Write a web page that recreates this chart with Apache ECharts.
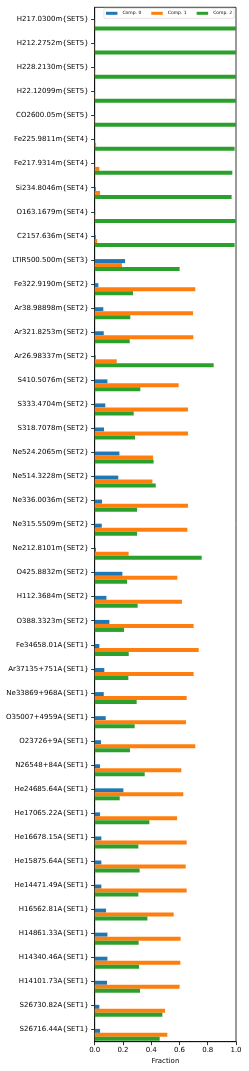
<!DOCTYPE html>
<html>
<head>
<meta charset="utf-8">
<script src="https://cdn.jsdelivr.net/npm/echarts@6/dist/echarts.min.js"></script>
<style>html,body{margin:0;padding:0;background:#fff;}#c{width:249px;height:1071px;}</style>
</head>
<body>
<div id="c"></div>
<script>
const categories = [
  'H217.0300m{SET5}','H212.2752m{SET5}','H228.2130m{SET5}','H22.12099m{SET5}','CO2600.05m{SET5}',
  'Fe225.9811m{SET4}','Fe217.9314m{SET4}','Si234.8046m{SET4}','O163.1679m{SET4}','C2157.636m{SET4}',
  'LTIR500.500m{SET3}','Fe322.9190m{SET2}','Ar38.98898m{SET2}','Ar321.8253m{SET2}','Ar26.98337m{SET2}',
  'S410.5076m{SET2}','S333.4704m{SET2}','S318.7078m{SET2}','Ne524.2065m{SET2}','Ne514.3228m{SET2}',
  'Ne336.0036m{SET2}','Ne315.5509m{SET2}','Ne212.8101m{SET2}','O425.8832m{SET2}','H112.3684m{SET2}',
  'O388.3323m{SET2}','Fe34658.01A{SET1}','Ar37135+751A{SET1}','Ne33869+968A{SET1}','O35007+4959A{SET1}',
  'O23726+9A{SET1}','N26548+84A{SET1}','He24685.64A{SET1}','He17065.22A{SET1}','He16678.15A{SET1}',
  'He15875.64A{SET1}','He14471.49A{SET1}','H16562.81A{SET1}','H14861.33A{SET1}','H14340.46A{SET1}',
  'H14101.73A{SET1}','S26730.82A{SET1}','S26716.44A{SET1}'
];
const seriesNames = ['Comp. 0', 'Comp. 1', 'Comp. 2'];
const comp0 = [0.002,0.002,0.002,0.002,0.002,0.002,0.002,0.007,0.003,0.007,0.215,0.026,0.061,0.064,0.007,0.09,0.075,0.066,0.175,0.167,0.052,0.05,0.009,0.196,0.083,0.104,0.033,0.068,0.064,0.078,0.045,0.038,0.203,0.038,0.047,0.047,0.047,0.08,0.09,0.09,0.087,0.033,0.038];
const comp1 = [0.002,0.002,0.002,0.002,0.002,0.01,0.033,0.038,0.002,0.017,0.193,0.712,0.696,0.698,0.156,0.594,0.66,0.66,0.413,0.408,0.66,0.656,0.24,0.585,0.618,0.70,0.736,0.70,0.651,0.646,0.712,0.613,0.627,0.583,0.651,0.644,0.651,0.559,0.608,0.606,0.601,0.498,0.514];
const comp2 = [1.0,1.0,1.0,1.0,1.0,0.99,0.974,0.969,0.998,0.99,0.601,0.271,0.252,0.248,0.842,0.323,0.276,0.285,0.417,0.432,0.30,0.30,0.757,0.229,0.304,0.208,0.241,0.238,0.297,0.283,0.25,0.354,0.177,0.387,0.309,0.318,0.309,0.373,0.311,0.314,0.321,0.479,0.46];
const xTicks = [0, 0.2, 0.4, 0.6, 0.8, 1.0];
const colors = ['#1f77b4', '#ff7f0e', '#2ca02c'];

const font = 'DejaVu Sans';
const chart = echarts.init(document.getElementById('c'), null, {renderer: 'canvas'});
const values = [comp0, comp1, comp2];
const series = [{
  name: '_spacer', type: 'bar', data: categories.map(() => 0), barWidth: 10.4, barGap: '0%',
  itemStyle: {color: 'rgba(0,0,0,0)'}, silent: true, legendHoverLink: false
}].concat(seriesNames.map((n, i) => ({
  name: n, type: 'bar', data: values[i], barWidth: 4.0, barGap: '0%',
  itemStyle: {color: colors[i]}, emphasis: {disabled: true}
})));

chart.setOption({
  animation: false,
  textStyle: {fontFamily: font},
  grid: {left: 94.7, right: 13, top: 7.3, bottom: 29.3, show: true, borderColor: '#000', borderWidth: 0.8, containLabel: false},
  legend: {
    data: seriesNames, right: 15, top: 8.3, orient: 'horizontal',
    itemWidth: 11.5, itemHeight: 3, itemGap: 10, padding: [2.5, 2, 2.5, 2],
    borderColor: '#d0d0d0', borderWidth: 0.6, borderRadius: 1, backgroundColor: 'rgba(255,255,255,0.8)',
    textStyle: {fontSize: 4.5, color: '#000', fontFamily: font}, icon: 'rect', selectedMode: false
  },
  xAxis: {
    type: 'value', min: 0, max: 1, interval: 0.2,
    name: 'Fraction', nameLocation: 'middle', nameGap: 15,
    nameTextStyle: {fontSize: 7, color: '#000', fontFamily: font},
    axisLine: {show: true, lineStyle: {color: '#000', width: 0.8}},
    axisTick: {show: true, length: 3.5, lineStyle: {color: '#000', width: 0.8}},
    axisLabel: {fontSize: 7, color: '#000', margin: 4.5, formatter: v => xTicks.includes(+v.toFixed(1)) ? v.toFixed(1) : ''},
    splitLine: {show: false}
  },
  yAxis: {
    type: 'category', inverse: true, data: categories,
    axisLine: {show: true, lineStyle: {color: '#000', width: 0.8}},
    axisTick: {show: true, alignWithLabel: true, length: 3.5, lineStyle: {color: '#000', width: 0.8}},
    axisLabel: {fontSize: 7, color: '#000', margin: 6, interval: 0},
    splitLine: {show: false}
  },
  series: series
});
</script>
</body>
</html>
